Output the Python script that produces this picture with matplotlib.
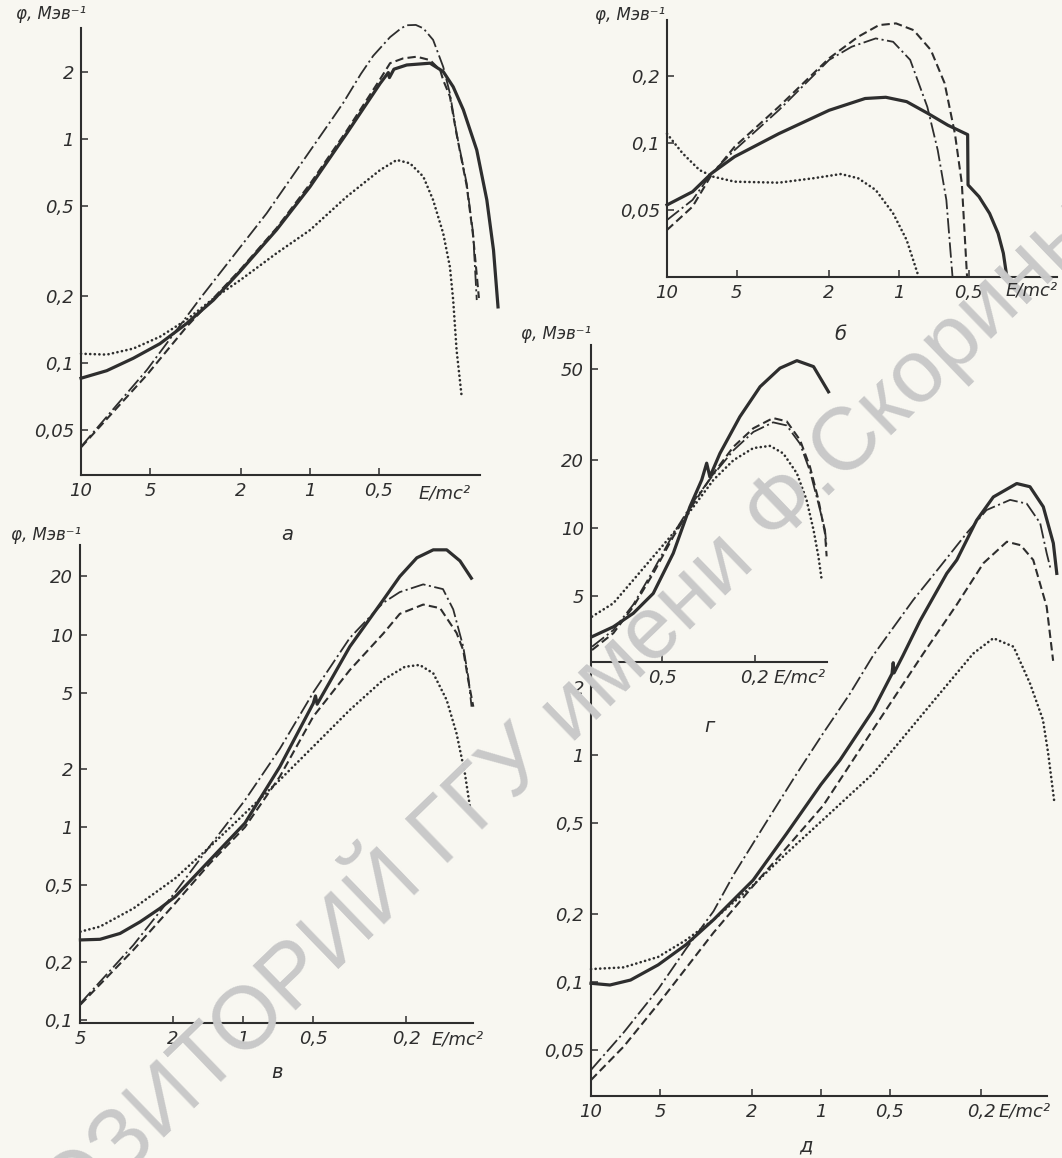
import matplotlib
matplotlib.use('Agg')
import matplotlib.pyplot as plt
from matplotlib import font_manager
from matplotlib.ticker import NullLocator

# ---- data: E/mc^2 and phi (MeV^-1) ----
# panel a
a_solid_E = [10, 7.72, 5.91, 4.52, 3.46, 2.64, 2.01, 1.40, 1.0, 0.691, 0.494, 0.455, 0.450, 0.43, 0.378, 0.299, 0.262, 0.237, 0.214, 0.187, 0.169, 0.158, 0.151]
a_solid_phi = [0.0855, 0.0924, 0.105, 0.122, 0.150, 0.191, 0.258, 0.393, 0.612, 1.06, 1.77, 1.98, 1.88, 2.05, 2.14, 2.18, 2.0, 1.71, 1.35, 0.893, 0.535, 0.319, 0.178]
a_dash_E = [10, 5.16, 3.46, 2.01, 1.40, 1.0, 0.691, 0.494, 0.447, 0.392, 0.342, 0.299, 0.270, 0.262, 0.245, 0.229, 0.207, 0.194, 0.183]
a_dash_phi = [0.042, 0.0884, 0.145, 0.262, 0.40, 0.63, 1.09, 1.85, 2.18, 2.29, 2.33, 2.25, 2.03, 1.83, 1.55, 1.05, 0.62, 0.37, 0.195]
a_dd_E = [10, 5.16, 3.02, 1.546, 0.791, 0.716, 0.60, 0.530, 0.447, 0.40, 0.378, 0.345, 0.320, 0.290, 0.262, 0.245, 0.229, 0.207, 0.194, 0.187]
a_dd_phi = [0.0423, 0.093, 0.194, 0.466, 1.25, 1.45, 1.95, 2.35, 2.85, 3.12, 3.22, 3.23, 3.12, 2.77, 2.10, 1.60, 1.06, 0.634, 0.38, 0.191]
a_dot_E = [10, 7.72, 5.91, 4.52, 3.46, 2.64, 2.01, 1.40, 1.0, 0.691, 0.494, 0.418, 0.366, 0.320, 0.290, 0.262, 0.245, 0.237, 0.229, 0.218]
a_dot_phi = [0.110, 0.109, 0.116, 0.131, 0.156, 0.194, 0.235, 0.309, 0.392, 0.553, 0.727, 0.806, 0.779, 0.679, 0.534, 0.379, 0.269, 0.191, 0.114, 0.072]

# panel b
b_solid_E = [10, 7.76, 6.43, 5.11, 3.30, 2.0, 1.40, 1.14, 0.927, 0.755, 0.615, 0.506, 0.504, 0.452, 0.407, 0.374, 0.355, 0.343]
b_solid_phi = [0.0529, 0.0606, 0.0732, 0.0869, 0.110, 0.140, 0.158, 0.160, 0.153, 0.136, 0.120, 0.109, 0.065, 0.0576, 0.0485, 0.0395, 0.0322, 0.0253]
b_dash_E = [10, 7.76, 6.43, 5.11, 3.30, 2.0, 1.50, 1.22, 1.03, 0.865, 0.729, 0.636, 0.574, 0.536, 0.509]
b_dash_phi = [0.0409, 0.052, 0.072, 0.0963, 0.145, 0.239, 0.298, 0.336, 0.342, 0.319, 0.260, 0.185, 0.110, 0.066, 0.0253]
b_dd_E = [10, 7.76, 6.43, 5.11, 3.30, 2.0, 1.60, 1.26, 1.06, 0.895, 0.755, 0.681, 0.625, 0.588]
b_dd_phi = [0.0453, 0.0557, 0.0732, 0.093, 0.140, 0.235, 0.269, 0.293, 0.283, 0.235, 0.145, 0.093, 0.0557, 0.0253]
b_dot_E = [10, 8.57, 7.24, 6.31, 5.11, 3.30, 2.34, 1.78, 1.50, 1.26, 1.06, 0.927, 0.823]
b_dot_phi = [0.110, 0.090, 0.0757, 0.0707, 0.0672, 0.0665, 0.0696, 0.0727, 0.0696, 0.0617, 0.0485, 0.0369, 0.0253]

# panel v
v_solid_E = [5.0, 4.12, 3.38, 2.77, 2.28, 1.96, 1.39, 0.984, 0.697, 0.501, 0.49, 0.482, 0.349, 0.251, 0.213, 0.180, 0.153, 0.134, 0.1175, 0.105]
v_solid_phi = [0.260, 0.262, 0.281, 0.323, 0.379, 0.436, 0.676, 1.05, 2.06, 4.39, 4.8, 4.35, 8.65, 15.1, 20.0, 25.0, 27.5, 27.5, 24.1, 19.6]
v_dash_E = [5.0, 2.96, 1.96, 1.39, 0.984, 0.697, 0.501, 0.349, 0.251, 0.213, 0.169, 0.143, 0.1216, 0.1138, 0.1083, 0.103]
v_dash_phi = [0.12, 0.231, 0.403, 0.650, 1.0, 1.83, 3.75, 6.54, 10.1, 12.8, 14.3, 13.7, 10.2, 8.3, 5.8, 4.22]
v_dd_E = [5.0, 2.96, 1.96, 1.39, 0.984, 0.697, 0.501, 0.349, 0.251, 0.213, 0.169, 0.139, 0.1256, 0.1138, 0.1083, 0.1048]
v_dd_phi = [0.122, 0.245, 0.46, 0.80, 1.38, 2.55, 5.0, 9.6, 14.6, 16.6, 18.2, 17.2, 13.5, 8.65, 6.04, 4.22]
v_dot_E = [5.0, 4.12, 2.96, 1.96, 1.39, 0.984, 0.697, 0.501, 0.349, 0.251, 0.2026, 0.175, 0.153, 0.134, 0.1216, 0.112, 0.1065]
v_dot_phi = [0.287, 0.305, 0.379, 0.543, 0.793, 1.18, 1.76, 2.62, 4.06, 5.81, 6.80, 6.95, 6.29, 4.57, 3.07, 1.91, 1.28]

# panel g (inset, shares the phi scale of panel d)
g_solid_E = [1.0, 0.81, 0.665, 0.546, 0.448, 0.380, 0.338, 0.322, 0.312, 0.2825, 0.232, 0.190, 0.156, 0.132, 0.112, 0.0966]
g_solid_phi = [3.32, 3.67, 4.21, 5.15, 7.74, 12.4, 16.3, 19.3, 16.8, 21.3, 30.9, 41.9, 50.6, 54.6, 51.4, 39.8]
g_dash_E = [1.0, 0.81, 0.665, 0.546, 0.448, 0.367, 0.301, 0.247, 0.203, 0.167, 0.146, 0.128, 0.116, 0.1067, 0.1, 0.0984]
g_dash_phi = [2.90, 3.44, 4.50, 6.31, 9.16, 12.8, 17.4, 22.8, 27.5, 30.5, 29.5, 24.4, 18.6, 13.3, 9.48, 7.5]
g_dd_E = [1.0, 0.81, 0.665, 0.546, 0.448, 0.367, 0.301, 0.247, 0.203, 0.167, 0.146, 0.128, 0.116, 0.1067, 0.1, 0.0984]
g_dd_phi = [3.0, 3.55, 4.6, 6.5, 9.4, 13.1, 17.2, 22.0, 26.5, 29.2, 28.3, 23.5, 17.8, 12.8, 9.8, 8.2]
g_dot_E = [1.0, 0.81, 0.665, 0.546, 0.448, 0.367, 0.301, 0.247, 0.203, 0.172, 0.151, 0.132, 0.120, 0.112, 0.1067, 0.1033]
g_dot_phi = [4.07, 4.66, 5.90, 7.48, 9.48, 12.4, 16.3, 19.9, 22.5, 23.0, 21.3, 17.4, 13.3, 9.8, 7.48, 5.90]

# panel d
d_solid_E = [10, 8.27, 6.73, 5.10, 3.86, 2.93, 1.97, 1.41, 1.0, 0.825, 0.591, 0.49, 0.484, 0.480, 0.44, 0.37, 0.283, 0.256, 0.21, 0.1775, 0.1404, 0.123, 0.1076, 0.0973, 0.094]
d_solid_phi = [0.0987, 0.097, 0.102, 0.119, 0.146, 0.188, 0.281, 0.45, 0.74, 0.95, 1.58, 2.28, 2.55, 2.30, 2.73, 3.9, 6.31, 7.23, 10.8, 13.7, 15.7, 15.2, 12.4, 8.57, 6.31]
d_dash_E = [10, 7.2, 5.1, 3.86, 2.93, 1.97, 1.41, 0.975, 0.591, 0.358, 0.256, 0.196, 0.155, 0.135, 0.119, 0.104, 0.0975]
d_dash_phi = [0.037, 0.052, 0.080, 0.115, 0.165, 0.265, 0.39, 0.60, 1.30, 2.80, 4.6, 7.0, 8.7, 8.4, 7.23, 4.5, 2.6]
d_dd_E = [10, 7.2, 5.1, 3.86, 2.93, 2.38, 1.74, 1.3, 0.975, 0.75, 0.591, 0.396, 0.303, 0.232, 0.190, 0.150, 0.127, 0.111, 0.104, 0.100]
d_dd_phi = [0.041, 0.060, 0.093, 0.140, 0.205, 0.30, 0.50, 0.80, 1.25, 1.85, 2.75, 4.82, 6.75, 9.48, 12.0, 13.3, 12.8, 10.5, 7.74, 6.6]
d_dot_E = [10, 7.21, 5.1, 3.86, 2.93, 1.97, 1.41, 0.975, 0.591, 0.303, 0.217, 0.1775, 0.145, 0.123, 0.108, 0.1025, 0.0966]
d_dot_phi = [0.114, 0.116, 0.129, 0.153, 0.188, 0.267, 0.369, 0.52, 0.83, 1.87, 2.80, 3.27, 3.0, 2.07, 1.43, 1.02, 0.634]

# ticks
a_xt = [10, 5, 2, 1, 0.5]
a_xl = ['10', '5', '2', '1', '0,5']
a_yt = [0.05, 0.1, 0.2, 0.5, 1, 2]
a_yl = ['0,05', '0,1', '0,2', '0,5', '1', '2']
b_xt = [10, 5, 2, 1, 0.5]
b_xl = ['10', '5', '2', '1', '0,5']
b_yt = [0.05, 0.1, 0.2]
b_yl = ['0,05', '0,1', '0,2']
v_xt = [5, 2, 1, 0.5, 0.2]
v_xl = ['5', '2', '1', '0,5', '0,2']
v_yt = [0.1, 0.2, 0.5, 1, 2, 5, 10, 20]
v_yl = ['0,1', '0,2', '0,5', '1', '2', '5', '10', '20']
g_xt = [0.5, 0.2]
g_xl = ['0,5', '0,2']
d_xt = [10, 5, 2, 1, 0.5, 0.2]
d_xl = ['10', '5', '2', '1', '0,5', '0,2']
d_yt = [0.05, 0.1, 0.2, 0.5, 1, 2, 5, 10, 20, 50]
d_yl = ['0,05', '0,1', '0,2', '0,5', '1', '2', '5', '10', '20', '50']

YLAB = 'φ, Мэв⁻¹'
XLAB = 'E/mc²'

W, H = 1062, 1158
INK = '#2e2e2e'
PAPER = '#f8f7f1'

names = {f.name for f in font_manager.fontManager.ttflist}
SANS = ['Liberation Sans Narrow', 'DejaVu Sans'] if 'Liberation Sans Narrow' in names else ['DejaVu Sans']
plt.rcParams['font.family'] = SANS
plt.rcParams['lines.scale_dashes'] = False


def make_ax(fig, left, right, bottom, top, xref, xref_px, xdec, yref, yref_py, ydec):
    ax = fig.add_axes([left / W, 1 - bottom / H, (right - left) / W, (bottom - top) / H])
    ax.set_xscale('log')
    ax.set_yscale('log')
    ax.set_xlim(xref * 10 ** (-(left - xref_px) / xdec), xref * 10 ** (-(right - xref_px) / xdec))
    ax.set_ylim(yref * 10 ** ((yref_py - bottom) / ydec), yref * 10 ** ((yref_py - top) / ydec))
    ax.patch.set_alpha(0)
    for s in ('top', 'right'):
        ax.spines[s].set_visible(False)
    for s in ('left', 'bottom'):
        ax.spines[s].set_linewidth(1.5)
        ax.spines[s].set_color(INK)
    ax.tick_params(direction='in', length=5, width=1.1, colors=INK, labelsize=13, pad=5)
    return ax


def set_ticks(ax, xt, xl, yt, yl):
    ax.set_xticks(xt)
    ax.set_xticklabels(xl, fontstyle='italic')
    if yt:
        ax.set_yticks(yt)
        ax.set_yticklabels(yl, fontstyle='italic')
    else:
        ax.set_yticks([])
    ax.xaxis.set_minor_locator(NullLocator())
    ax.yaxis.set_minor_locator(NullLocator())


def draw(ax, solid, dash, dd, dot):
    ax.plot(*dot, color=INK, lw=1.9, ls=(0, (0.1, 3.2)), dash_capstyle='round', clip_on=False)
    ax.plot(*dash, color=INK, lw=1.5, ls=(0, (6, 3)), clip_on=False)
    ax.plot(*dd, color=INK, lw=1.3, ls=(0, (11, 2.5, 1.5, 2.5)), clip_on=False)
    ax.plot(*solid, color=INK, lw=2.3, clip_on=False, solid_joinstyle='round')


def ftext(fig, x, y, s, **kw):
    fig.text(x / W, 1 - y / H, s, color=INK, fontstyle='italic', zorder=5, **kw)


fig = plt.figure(figsize=(W / 100, H / 100), dpi=100, facecolor=PAPER)

# a
ax = make_ax(fig, 81, 480, 475, 28, 10, 81, 229, 1, 139, 224)
set_ticks(ax, a_xt, a_xl, a_yt, a_yl)
draw(ax, (a_solid_E, a_solid_phi), (a_dash_E, a_dash_phi), (a_dd_E, a_dd_phi), (a_dot_E, a_dot_phi))
ftext(fig, 86, 14, YLAB, fontsize=12, ha='right', va='center')
ftext(fig, 445, 493, XLAB, fontsize=13, ha='center', va='center')
ftext(fig, 287, 535, 'а', fontsize=14, ha='center', va='center')

# b
ax = make_ax(fig, 667, 1057, 277, 20, 10, 667, 232, 0.1, 143, 224)
set_ticks(ax, b_xt, b_xl, b_yt, b_yl)
draw(ax, (b_solid_E, b_solid_phi), (b_dash_E, b_dash_phi), (b_dd_E, b_dd_phi), (b_dot_E, b_dot_phi))
ftext(fig, 665, 15, YLAB, fontsize=12, ha='right', va='center')
ftext(fig, 1058, 290, XLAB, fontsize=13, ha='right', va='center')
ftext(fig, 840, 335, 'б', fontsize=14, ha='center', va='center')

# v
ax = make_ax(fig, 80, 473, 1023, 545, 1, 243.3, 233, 1, 827.2, 192.7)
set_ticks(ax, v_xt, v_xl, v_yt, v_yl)
draw(ax, (v_solid_E, v_solid_phi), (v_dash_E, v_dash_phi), (v_dd_E, v_dd_phi), (v_dot_E, v_dot_phi))
ftext(fig, 81, 535, YLAB, fontsize=12, ha='right', va='center')
ftext(fig, 458, 1040, XLAB, fontsize=13, ha='center', va='center')
ftext(fig, 277, 1073, 'в', fontsize=14, ha='center', va='center')

# d
ax = make_ax(fig, 591, 1047, 1096, 345, 1, 820.8, 229.8, 1, 755, 227)
set_ticks(ax, d_xt, d_xl, d_yt, d_yl)
draw(ax, (d_solid_E, d_solid_phi), (d_dash_E, d_dash_phi), (d_dd_E, d_dd_phi), (d_dot_E, d_dot_phi))
ftext(fig, 591, 334, YLAB, fontsize=12, ha='right', va='center')
ftext(fig, 1025, 1112, XLAB, fontsize=13, ha='center', va='center')
ftext(fig, 806, 1146, 'д', fontsize=14, ha='center', va='center')

# g, inset drawn on the phi scale of d
ax = make_ax(fig, 592, 827, 662, 345, 1, 592, 233, 1, 755, 227)
ax.spines['left'].set_visible(False)
set_ticks(ax, g_xt, g_xl, None, None)
draw(ax, (g_solid_E, g_solid_phi), (g_dash_E, g_dash_phi), (g_dd_E, g_dd_phi), (g_dot_E, g_dot_phi))
ftext(fig, 800, 678, XLAB, fontsize=13, ha='center', va='center')
ftext(fig, 709, 726, 'г', fontsize=14, ha='center', va='center')

# repository watermark across the scan (cut by the page edges as in the scan),
# drawn over the curves but under the labels
fig.text(500 / W, 1 - 770 / H, 'РЕПОЗИТОРИЙ ГГУ имени Ф.Скорины', rotation=44,
         rotation_mode='anchor', ha='center', va='center', fontsize=64,
         family=['Liberation Sans', 'DejaVu Sans'], color='#c9c9c9', zorder=2)

fig.savefig('out.png', dpi=100, facecolor=PAPER)
